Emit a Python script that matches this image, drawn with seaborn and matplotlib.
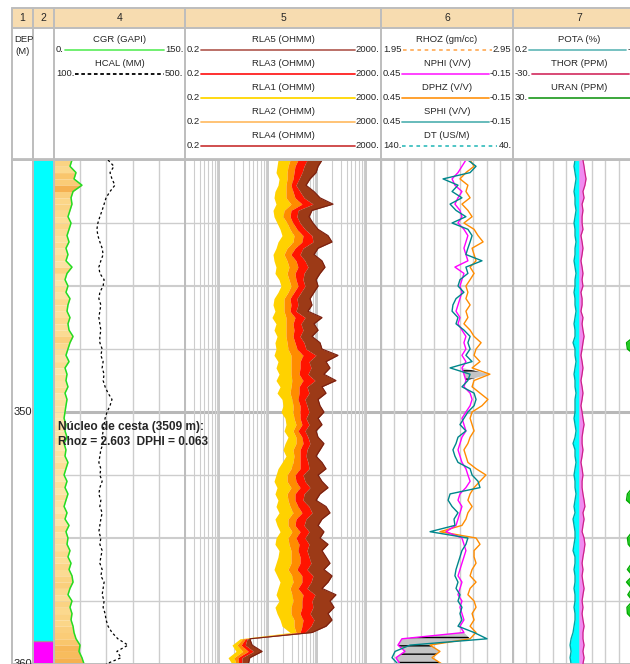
#! /usr/bin/env python3
import matplotlib
matplotlib.use('Agg')
import matplotlib.pyplot as plt
from matplotlib.colors import LinearSegmentedColormap, Normalize
from matplotlib.patches import Rectangle
import numpy as np
import seaborn as sns


# log samples, one every 2.5 m
DEPTH = np.arange(3400, 3600.1, 2.5)

CGR = [20.6, 18.3, 25.2, 22.9, 32.0, 21.8, 19.5, 20.6, 18.3, 16.0,
       19.5, 17.2, 14.9, 17.2, 13.7, 16.0, 13.7, 20.6, 14.9, 12.6,
       16.0, 13.7, 18.3, 16.0, 14.9, 18.3, 16.0, 17.2, 21.8, 18.3,
       16.0, 13.7, 17.2, 12.6, 14.9, 13.7, 16.0, 12.6, 14.9, 13.7,
       12.6, 11.5, 13.7, 12.6, 14.9, 11.5, 13.7, 12.6, 16.0, 13.7,
       11.5, 14.9, 12.6, 16.0, 13.7, 11.5, 14.9, 12.6, 17.2, 13.7,
       16.0, 14.9, 18.3, 16.0, 19.5, 17.2, 20.6, 21.8, 18.3, 16.0,
       20.6, 18.3, 20.6, 19.5, 21.8, 22.9, 25.2, 29.8, 28.6, 32.0,
       34.4]

HCAL = [265, 283, 271, 277, 286, 271, 259, 253, 247, 240,
        234, 231, 234, 240, 247, 250, 243, 237, 240, 253,
        250, 240, 237, 243, 240, 237, 240, 243, 240, 240,
        247, 243, 250, 247, 253, 250, 256, 265, 277, 271,
        262, 256, 253, 250, 247, 250, 243, 240, 237, 243,
        240, 247, 240, 237, 243, 240, 247, 243, 240, 237,
        243, 240, 247, 243, 240, 247, 243, 253, 250, 247,
        253, 250, 256, 259, 265, 277, 295, 326, 292, 305,
        259]

RLA1 = [15.8, 15.1, 14.4, 16.6, 15.8, 13.7, 13.1, 14.4, 12.5, 13.1,
        15.1, 17.4, 19.1, 15.8, 14.4, 12.5, 13.1, 14.4, 13.7, 16.6,
        18.2, 15.8, 13.1, 12.5, 13.7, 11.9, 14.4, 13.1, 15.1, 13.7,
        14.4, 13.1, 15.8, 14.4, 16.6, 14.4, 17.4, 15.1, 19.1, 20.0,
        18.2, 22.0, 23.0, 21.0, 25.3, 22.0, 20.0, 23.0, 19.1, 15.8,
        14.4, 13.1, 15.1, 13.7, 15.8, 14.4, 16.6, 13.7, 15.1, 17.4,
        14.4, 13.7, 16.6, 15.8, 14.4, 13.1, 15.1, 17.4, 15.8, 14.4,
        16.6, 13.7, 15.1, 17.4, 19.1, 27.8, 2.65, 1.82, 2.2, 1.51,
        1.82]

RLA2 = [27.8, 25.3, 24.2, 24.2, 23.0, 23.0, 23.0, 29.1, 21.0, 20.0,
        24.2, 27.8, 33.5, 32.0, 24.2, 21.0, 24.2, 26.5, 24.2, 26.5,
        29.1, 25.3, 21.0, 21.0, 21.0, 23.0, 23.0, 23.0, 23.0, 24.2,
        25.3, 29.1, 29.1, 29.1, 29.1, 30.5, 29.1, 27.8, 30.5, 32.0,
        32.0, 33.5, 36.8, 32.0, 36.8, 36.8, 32.0, 33.5, 32.0, 29.1,
        24.2, 24.2, 29.1, 24.2, 25.3, 27.8, 32.0, 25.3, 25.3, 30.5,
        25.3, 26.5, 29.1, 29.1, 29.1, 25.3, 30.5, 32.0, 27.8, 30.5,
        32.0, 29.1, 29.1, 33.5, 33.5, 36.8, 3.0, 2.3, 3.0, 2.0,
        2.2]

RLA3 = [40.5, 35.1, 33.5, 32.0, 29.1, 32.0, 35.1, 48.9, 29.1, 27.8,
        32.0, 38.6, 51.2, 48.9, 35.1, 29.1, 36.8, 40.5, 35.1, 36.8,
        40.5, 33.5, 27.8, 29.1, 27.8, 35.1, 32.0, 33.5, 32.0, 35.1,
        38.6, 51.2, 44.5, 44.5, 42.5, 51.2, 42.5, 42.5, 40.5, 44.5,
        44.5, 44.5, 48.9, 40.5, 48.9, 51.2, 44.5, 44.5, 44.5, 44.5,
        35.1, 36.8, 44.5, 35.1, 35.1, 40.5, 48.9, 36.8, 35.1, 44.5,
        36.8, 42.5, 40.5, 44.5, 44.5, 38.6, 48.9, 48.9, 40.5, 51.2,
        48.9, 48.9, 44.5, 51.2, 48.9, 44.5, 3.4, 2.8, 3.9, 2.4,
        2.5]

RLA4 = [61.8, 53.7, 48.9, 42.5, 36.8, 44.5, 53.7, 81.9, 40.5, 38.6,
        44.5, 56.2, 78.1, 81.9, 51.2, 44.5, 56.2, 64.7, 53.7, 51.2,
        56.2, 46.6, 38.6, 40.5, 36.8, 56.2, 46.6, 51.2, 44.5, 53.7,
        59.0, 94.3, 67.9, 74.5, 64.7, 90.0, 61.8, 67.9, 56.2, 61.8,
        67.9, 59.0, 67.9, 56.2, 64.7, 71.1, 61.8, 59.0, 64.7, 67.9,
        51.2, 56.2, 71.1, 53.7, 51.2, 67.9, 78.1, 59.0, 53.7, 67.9,
        56.2, 67.9, 61.8, 67.9, 74.5, 61.8, 81.9, 74.5, 61.8, 90.0,
        78.1, 81.9, 71.1, 85.8, 74.5, 56.2, 3.7, 3.4, 5.0, 2.9,
        2.9]

RLA5 = [125, 104, 94.3, 71.1, 59.0, 85.8, 114, 210, 78.1, 67.9,
        81.9, 104, 166, 200, 104, 85.8, 125, 144, 114, 94.3,
        104, 85.8, 71.1, 78.1, 64.7, 125, 85.8, 104, 78.1, 114,
        125, 265, 151, 182, 137, 241, 125, 151, 104, 114,
        137, 104, 125, 94.3, 104, 137, 114, 94.3, 125, 151,
        104, 125, 166, 114, 94.3, 151, 182, 125, 104, 137,
        114, 166, 125, 151, 182, 137, 200, 166, 125, 241,
        182, 220, 166, 200, 151, 78.1, 4.2, 4.7, 7.5, 4.2,
        3.9]

NPHI = [0.064, 0.082, 0.100, 0.127, 0.114, 0.082, 0.100, 0.114, 0.091, 0.082,
        0.100, 0.073, 0.055, 0.064, 0.073, 0.064, 0.055, 0.114, 0.073, 0.082,
        0.091, 0.082, 0.091, 0.100, 0.109, 0.091, 0.100, 0.082, 0.064, 0.073,
        0.064, 0.082, 0.064, 0.082, 0.073, 0.064, 0.073, 0.045, 0.036, 0.045,
        0.064, 0.082, 0.073, 0.064, 0.082, 0.091, 0.100, 0.091, 0.082, 0.064,
        0.055, 0.045, 0.064, 0.091, 0.100, 0.082, 0.091, 0.100, 0.109, 0.155,
        0.082, 0.073, 0.064, 0.073, 0.082, 0.091, 0.100, 0.082, 0.091, 0.100,
        0.082, 0.091, 0.082, 0.073, 0.091, 0.073, 0.355, 0.373, 0.341, 0.382,
        0.364]

DPHZ = [0.045, 0.027, 0.064, 0.091, 0.055, 0.064, 0.045, 0.082, 0.055, 0.036,
        0.073, 0.027, 0.009, -0.014, 0.036, 0.027, 0.018, 0.045, 0.027, 0.045,
        0.064, 0.055, 0.064, 0.045, 0.064, 0.055, 0.073, 0.045, 0.027, -0.005,
        0.018, 0.027, 0.000, 0.036, -0.045, 0.027, 0.036, 0.000, -0.036, -0.009,
        0.036, 0.045, 0.036, 0.027, 0.045, 0.055, 0.073, 0.064, 0.055, 0.018,
        -0.027, 0.000, 0.027, 0.045, 0.055, 0.036, 0.055, 0.064, 0.082, 0.182,
        0.018, 0.000, 0.027, 0.027, 0.018, 0.036, 0.045, 0.018, 0.045, 0.055,
        0.027, 0.018, 0.036, 0.027, 0.045, 0.018, 0.045, 0.227, 0.182, 0.218,
        0.173]

SPHI = [0.055, 0.018, 0.045, 0.168, 0.100, 0.127, 0.082, 0.136, 0.109, 0.064,
        0.127, 0.055, 0.036, 0.045, 0.055, 0.064, -0.009, 0.064, 0.055, 0.091,
        0.100, 0.073, 0.109, 0.123, 0.127, 0.100, 0.109, 0.073, 0.045, 0.055,
        0.045, 0.064, 0.036, 0.136, 0.045, 0.055, 0.082, 0.027, 0.018, 0.027,
        0.055, 0.073, 0.091, 0.064, 0.100, 0.109, 0.123, 0.114, 0.100, 0.045,
        0.036, 0.009, 0.000, 0.136, 0.145, 0.127, 0.100, 0.118, 0.114, 0.227,
        0.055, 0.064, 0.082, 0.091, 0.100, 0.109, 0.114, 0.100, 0.109, 0.091,
        0.100, 0.082, 0.091, 0.082, 0.100, 0.027, -0.032, 0.318, 0.386, 0.400,
        0.373]

POTA = [0.012, 0.015, 0.012, 0.009, 0.012, 0.015, 0.012, 0.012, 0.009, 0.012,
        0.015, 0.012, 0.012, 0.009, 0.012, 0.012, 0.015, 0.012, 0.009, 0.012,
        0.012, 0.015, 0.012, 0.012, 0.009, 0.012, 0.015, 0.012, 0.012, 0.018,
        0.012, 0.012, 0.009, 0.012, 0.015, 0.012, 0.012, 0.009, 0.012, 0.012,
        0.012, 0.015, 0.012, 0.009, 0.012, 0.018, 0.012, 0.012, 0.009, 0.012,
        0.015, 0.012, 0.012, 0.009, 0.012, 0.015, 0.012, 0.018, 0.015, 0.012,
        0.012, 0.015, 0.018, 0.012, 0.012, 0.015, 0.012, 0.012, 0.015, 0.012,
        0.012, 0.015, 0.012, 0.012, 0.015, 0.018, 0.024, 0.027, 0.024, 0.027,
        0.024]

THOR = [1.8, 2.3, 2.7, 3.2, 2.7, 1.8, 2.3, 1.4, 1.8, 1.4,
        1.4, 1.8, 0.9, 1.4, 1.8, 1.4, 0.9, 1.4, 1.8, 1.4,
        1.8, 0.9, 1.4, 1.4, 0.9, 1.8, 1.4, 1.8, 2.3, 1.8,
        1.4, 0.9, 1.4, 1.8, 1.4, 0.9, 1.4, 1.8, 1.4, 0.9,
        1.4, 1.8, 2.3, 1.8, 1.4, 1.4, 1.8, 1.4, 0.9, 1.4,
        1.8, 1.4, 1.4, 1.8, 2.3, 2.7, 1.8, 2.3, 1.8, 1.4,
        2.3, 2.7, 2.3, 1.8, 1.4, 1.8, 1.4, 1.8, 2.3, 1.8,
        1.4, 1.8, 1.4, 1.8, 2.3, 1.8, 1.8, 2.3, 1.8, 2.3,
        1.8]

URAN = [1.6, 1.4, 1.8, 1.5, 1.7, 1.3, 1.6, 1.5, 1.4, 1.7,
        1.5, 1.6, 1.3, 1.8, 1.5, 1.4, 1.6, 1.7, 1.5, 1.4,
        1.6, 1.5, 1.8, 1.6, 1.4, 1.5, 1.7, 1.9, 2.4, 4.2,
        4.0, 2.2, 1.6, 1.5, 1.7, 1.4, 1.6, 1.5, 1.8, 1.6,
        1.5, 1.7, 1.4, 1.6, 1.8, 1.5, 1.6, 1.7, 1.9, 2.1,
        1.8, 2.2, 2.8, 4.0, 4.2, 2.6, 2.0, 2.4, 2.2, 2.9,
        4.0, 3.8, 2.6, 2.3, 3.0, 4.0, 2.8, 4.2, 3.0, 3.9,
        2.8, 4.1, 4.0, 2.6, 2.2, 2.0, 1.8, 1.6, 1.9, 1.7,
        1.8]

ZONE_TOP = [3400, 3591]
ZONE_BASE = [3591, 3600]
ZONE_COLOR = ['#00ffff', '#ff00ff']

TRACK_NUMS = ['1', '2', '4', '5', '6', '7']

HEAD4 = [('CGR (GAPI)', '0.', '150.', '#66ee66', '-'),
         ('HCAL (MM)', '100.', '500.', 'black', (0, (2, 1.5)))]
HEAD5 = [('RLA5 (OHMM)', '0.2', '2000.', '#b5655c', '-'),
         ('RLA3 (OHMM)', '0.2', '2000.', '#ff2020', '-'),
         ('RLA1 (OHMM)', '0.2', '2000.', '#ffd700', '-'),
         ('RLA2 (OHMM)', '0.2', '2000.', '#ffbe6a', '-'),
         ('RLA4 (OHMM)', '0.2', '2000.', '#cd4040', '-')]
HEAD6 = [('RHOZ (gm/cc)', '1.95', '2.95', '#ffb060', (0, (2, 2))),
         ('NPHI (V/V)', '0.45', '-0.15', '#ff33ff', '-'),
         ('DPHZ (V/V)', '0.45', '-0.15', '#ff9a20', '-'),
         ('SPHI (V/V)', '0.45', '-0.15', '#5ab5b5', '-'),
         ('DT (US/M)', '140.', '40.', '#40c0c0', (0, (2, 2)))]
HEAD7 = [('POTA (%)', '0.2', '-0.2', '#6bbcbc', '-'),
         ('THOR (PPM)', '-30.', '30.', '#d63a6a', '-'),
         ('URAN (PPM)', '30.', '0.', '#2ca02c', '-')]

W, H = 630, 664
TOP, BOT = 160, 664
EDGES = [12, 33, 54, 185, 381, 513, 645]
GRID = '#cdcdcd'
FRAME = '#bdbdbd'
FS = 6.8


def rect(x0, x1, y0=TOP, y1=BOT):
    return [x0 / W, 1 - y1 / H, (x1 - x0) / W, (y1 - y0) / H]


def bare(ax):
    ax.set_xlabel('')
    ax.set_ylabel('')
    ax.tick_params(which='both', left=False, bottom=False, top=False,
                   labelleft=False, labelbottom=False, labeltop=False)
    for s in ax.spines.values():
        s.set_color(FRAME)
        s.set_linewidth(1.4)


def track(x0, x1, xlim, ticks=None, log=False):
    ax = fig.add_axes(rect(x0, x1))
    if log:
        ax.set_xscale('log')
    ax.set_xlim(*xlim)
    ax.set_ylim(3600, 3400)
    ax.set_axisbelow(True)
    if log:
        ax.grid(True, which='major', axis='x', color='#c4c4c4', lw=1.3)
        ax.grid(True, which='minor', axis='x', color=GRID, lw=0.8)
    else:
        ax.set_xticks(ticks)
        ax.grid(True, axis='x', color=GRID, lw=1.0)
    for d in range(3425, 3600, 25):
        lw = 2.2 if d % 100 == 0 else (1.5 if d % 50 == 0 else 1.0)
        col = '#b8b8b8' if d % 100 == 0 else GRID
        ax.axhline(d, color=col, lw=lw, zorder=0.5)
    bare(ax)
    return ax


def curve(ax, x, color, lw=1.0, ls='-'):
    sns.lineplot(x=x, y=DEPTH, ax=ax, orient='y', sort=False,
                 estimator=None, color=color, linewidth=lw, linestyle=ls)


def twin(ax, xlim):
    tw = ax.twiny()
    tw.set_xlim(*xlim)
    return tw


sns.set_style('white')
plt.rcParams['font.family'] = ['Liberation Sans', 'DejaVu Sans']

fig = plt.figure(figsize=(W / 100, H / 100), dpi=100)

# header panel, drawn in pixel coordinates
hd = fig.add_axes([0, 0, 1, 1])
hd.set_xlim(0, W)
hd.set_ylim(H, 0)
hd.axis('off')
hd.add_patch(Rectangle((EDGES[0], 8), EDGES[-1] - EDGES[0], 20,
                       fc='#f7dcb0', ec='none'))
for yy in (8, 28, 159):
    hd.plot([EDGES[0], EDGES[-1]], [yy, yy], color=FRAME,
            lw=2.0 if yy == 159 else 1.4)
for xx in EDGES:
    hd.plot([xx, xx], [8, 159], color=FRAME, lw=1.4)
for x0, x1, num in zip(EDGES[:-1], EDGES[1:], TRACK_NUMS):
    hd.text((x0 + x1) / 2, 18, num, ha='center', va='center', fontsize=7.5)
hd.text(14, 39, 'DEP', ha='left', va='center', fontsize=FS)
hd.text(15, 51, '(M)', ha='left', va='center', fontsize=FS)

renderer = fig.canvas.get_renderer()
for (x0, x1), rows in zip([(54, 185), (185, 381), (381, 513), (513, 645)],
                          [HEAD4, HEAD5, HEAD6, HEAD7]):
    for k, (name, lo, hi, col, ls) in enumerate(rows):
        yl = 49.5 + 24 * k
        hd.text((x0 + x1) / 2, yl - 9.5, name, ha='center', va='center',
                fontsize=FS)
        t1 = hd.text(x0 + 2, yl, lo, ha='left', va='center', fontsize=FS)
        t2 = hd.text(x1 - 1.5, yl, hi, ha='right', va='center', fontsize=FS)
        b1 = t1.get_window_extent(renderer)
        b2 = t2.get_window_extent(renderer)
        hd.plot([b1.x1 + 1, b2.x0 - 1], [yl, yl], color=col, ls=ls, lw=1.3)

# track 1: depth
ax1 = fig.add_axes(rect(12, 33))
ax1.set_xlim(0, 21)
ax1.set_ylim(3600, 3400)
bare(ax1)
for d in (3500, 3600):
    ax1.text(2, d, str(d), ha='left', va='center', fontsize=8, clip_on=True)

# track 2: zones
ax2 = fig.add_axes(rect(33, 54))
ax2.set_xlim(0, 1)
ax2.set_ylim(3600, 3400)
for top, base, col in zip(ZONE_TOP, ZONE_BASE, ZONE_COLOR):
    ax2.axhspan(top, base, color=col, lw=0)
ax2.axhline(ZONE_TOP[1], color='#9a9a9a', lw=1)
bare(ax2)

# track 4: gamma ray + caliper
ax4 = track(54, 185, (0, 150), np.linspace(0, 150, 6))
cmap = LinearSegmentedColormap.from_list(
    'gr', ['#fdeab4', '#fbd88c', '#f8c062', '#f3a542'])
norm = Normalize(10, 36)
for i in range(len(DEPTH) - 1):
    ax4.fill_betweenx(DEPTH[i:i + 2], 0, CGR[i:i + 2],
                      color=cmap(norm(CGR[i])), lw=0)
curve(ax4, CGR, '#22dd22', lw=1.1)
t4 = twin(ax4, (100, 500))
curve(t4, HCAL, 'black', lw=0.9, ls=(0, (2, 2)))
t4.set_xlim(100, 500)
t4.axis('off')

# track 5: resistivity, shaded between curves
ax5 = track(185, 381, (0.2, 2000), log=True)
rla = [np.array(r) for r in (RLA1, RLA2, RLA3, RLA4, RLA5)]
for lo, hi, col in zip(rla[:-1], rla[1:],
                       ['#ffd200', '#ff8c00', '#ff1400', '#9c3a17']):
    ax5.fill_betweenx(DEPTH, lo, hi, color=col, lw=0)
curve(ax5, RLA5, '#7a1f10', lw=0.8)
ax5.set_xlim(0.2, 2000)
ax5.set_ylim(3600, 3400)
bare(ax5)

# track 6: porosity
ax6 = track(381, 513, (0.45, -0.15), np.linspace(0.45, -0.15, 11))
nphi, dphz = np.array(NPHI), np.array(DPHZ)
ax6.fill_betweenx(DEPTH, nphi, dphz, where=(nphi - dphz) > 0.1,
                  interpolate=True, fc='#c4c4c4', ec='black', hatch='--', lw=0)
ax6.fill_betweenx(DEPTH, nphi, dphz, where=dphz > nphi,
                  interpolate=True, color='#ffee33', lw=0)
curve(ax6, DPHZ, '#ff8c00', lw=1.0)
curve(ax6, NPHI, '#ff00ff', lw=1.0)
curve(ax6, SPHI, '#00868b', lw=1.0)
ax6.set_xlim(0.45, -0.15)
ax6.set_ylim(3600, 3400)
bare(ax6)

# track 7: spectral gamma ray
ax7 = track(513, 645, (0.2, -0.2), np.linspace(0.2, -0.2, 11))
ax7.fill_betweenx(DEPTH, POTA, 0, color='#00ffff', lw=0)
curve(ax7, POTA, '#00a6a6', lw=1.0)
ax7.set_xlim(0.2, -0.2)
bare(ax7)
t7 = twin(ax7, (-30, 30))
t7.fill_betweenx(DEPTH, 0, THOR, color='#f08af0', lw=0)
curve(t7, THOR, '#cc2288', lw=0.9)
t7.set_xlim(-30, 30)
t7.axis('off')
t8 = twin(ax7, (30, 0))
t8.fill_betweenx(DEPTH, URAN, 0, color='#22cc22', lw=0)
curve(t8, URAN, '#00aa00', lw=1.0)
t8.set_xlim(30, 0)
t8.axis('off')

for ax in (ax4, ax5, ax6, ax7):
    ax.set_ylim(3600, 3400)

fig.text(5, 3509, 'Núcleo de cesta (3509 m):\nRhoz = 2.603  DPHI = 0.063',
         transform=ax4.transData, ha='left', va='center', fontsize=8.6,
         fontweight='bold', linespacing=1.3, zorder=10)

fig.savefig('out.png', dpi=100)
